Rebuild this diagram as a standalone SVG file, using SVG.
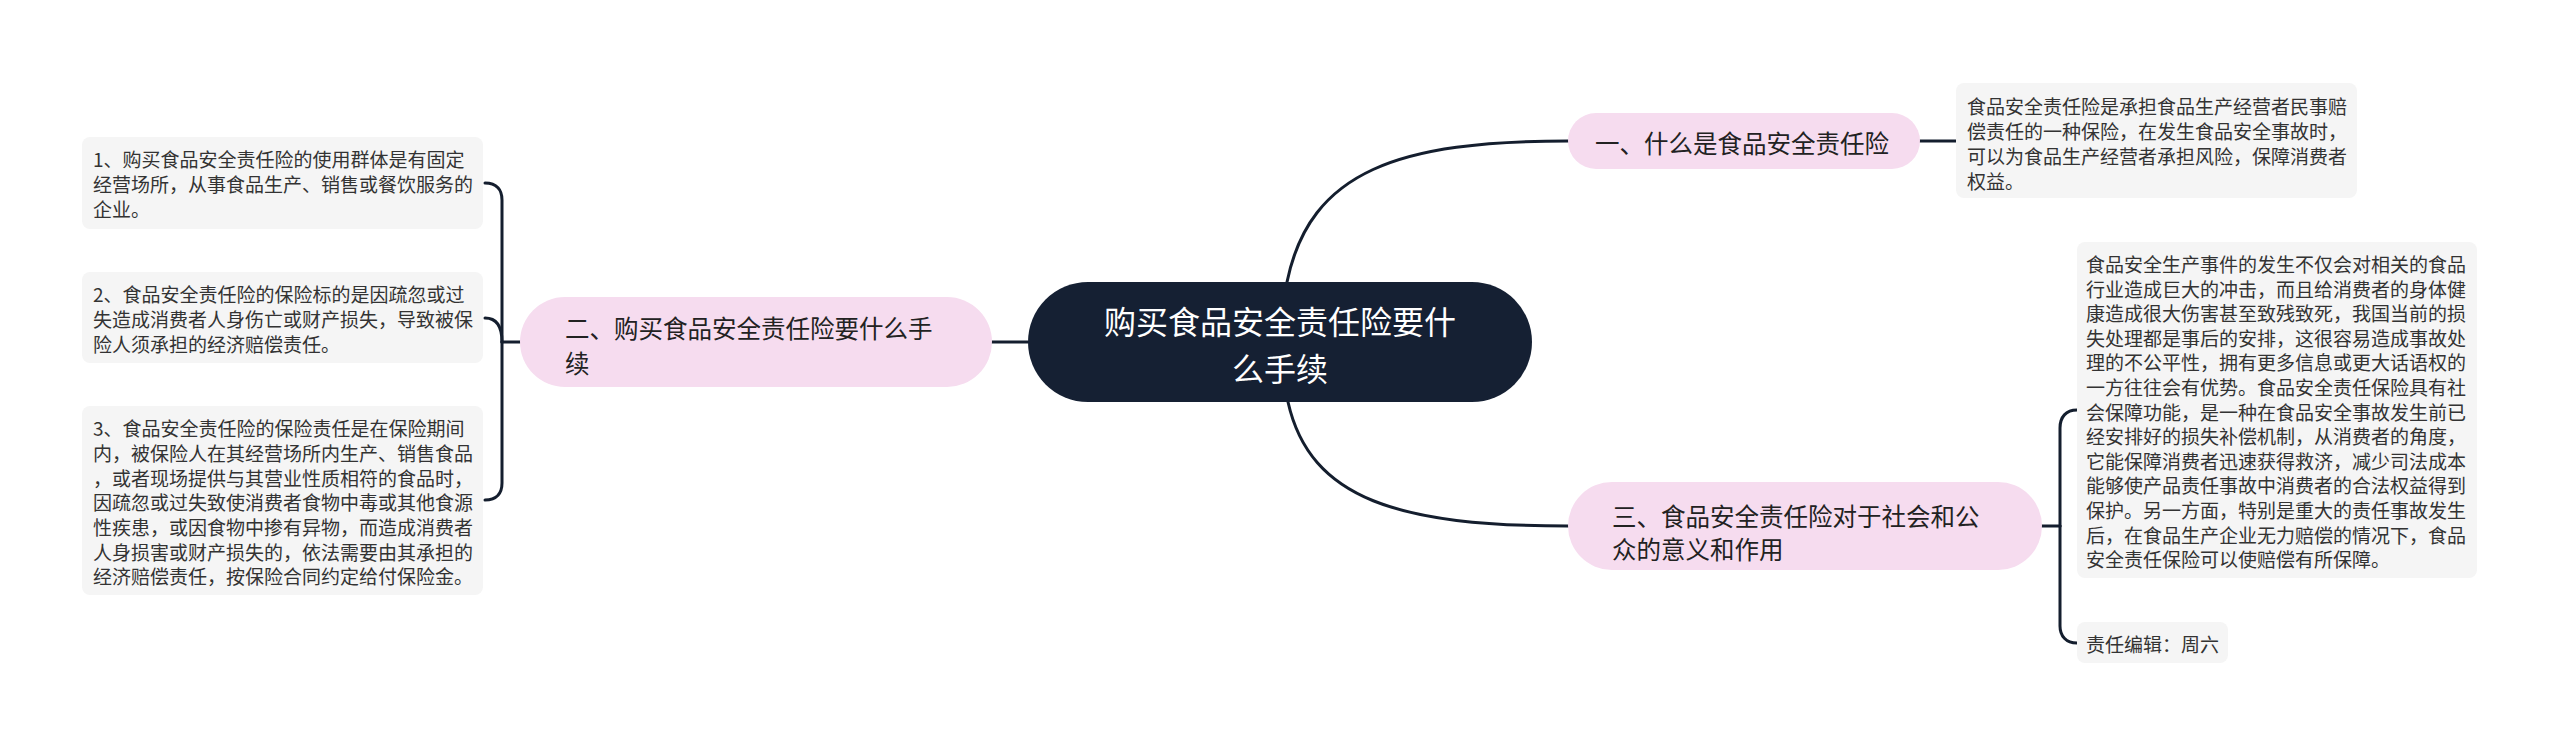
<svg xmlns="http://www.w3.org/2000/svg" width="2560" height="747" viewBox="0 0 2560 747">
<style>
.edge{fill:none;stroke:#141e2e;stroke-width:3;stroke-linecap:round}
.root{fill:#152033}
.sub{fill:#f6dcef}
.leaf{fill:#f5f5f5}
text{font-family:"Noto Sans CJK SC","Noto Sans",sans-serif;dominant-baseline:central}
.rt{fill:#ffffff;font-size:32px}
.st{fill:#222222;font-size:24.5px}
.lt{fill:#333333;font-size:19px}
</style>
<rect width="2560" height="747" fill="#ffffff"/>
<g id="connectors">
<path class="edge" d="M992,342 L1028,342"/>
<path class="edge" d="M502,342 L520,342"/>
<path class="edge" d="M502,342 L502,200 C502,190 497,183 485,183"/>
<path class="edge" d="M502,342 C502,328 498,318 485,318"/>
<path class="edge" d="M502,342 L502,483 C502,493 497,500 485,500"/>
<path class="edge" d="M1287,282 C1310,170 1400,141 1568,141"/>
<path class="edge" d="M1288,402 C1310,500 1400,526 1568,526"/>
<path class="edge" d="M1920,141 L1956,141"/>
<path class="edge" d="M2042,526 L2060,526"/>
<path class="edge" d="M2060,526 L2060,428 C2060,417 2066,410 2077,410"/>
<path class="edge" d="M2060,526 L2060,626 C2060,636 2066,643 2077,643"/>
</g>
<g id="root">
<rect class="root" x="1028" y="282" width="504" height="120" rx="60"/>
<text class="rt" x="1280" y="320" text-anchor="middle">购买食品安全责任险要什</text>
<text class="rt" x="1280" y="367" text-anchor="middle">么手续</text>
</g>
<g id="n1">
<rect class="sub" x="1568" y="113" width="352" height="56" rx="28"/>
<text class="st" x="1595" y="142">一、什么是食品安全责任险</text>
</g>
<g id="n1-leaf">
<rect class="leaf" x="1956" y="83" width="401" height="115" rx="8"/>
<text class="lt" x="1967" y="105">食品安全责任险是承担食品生产经营者民事赔</text>
<text class="lt" x="1967" y="130">偿责任的一种保险，在发生食品安全事故时，</text>
<text class="lt" x="1967" y="155">可以为食品生产经营者承担风险，保障消费者</text>
<text class="lt" x="1967" y="180">权益。</text>
</g>
<g id="n2">
<rect class="sub" x="520" y="297" width="472" height="90" rx="45"/>
<text class="st" x="565" y="327">二、购买食品安全责任险要什么手</text>
<text class="st" x="565" y="362">续</text>
</g>
<g id="n2-leaf1">
<rect class="leaf" x="82" y="137" width="401" height="92" rx="8"/>
<text class="lt" x="93" y="158">1、购买食品安全责任险的使用群体是有固定</text>
<text class="lt" x="93" y="183">经营场所，从事食品生产、销售或餐饮服务的</text>
<text class="lt" x="93" y="208">企业。</text>
</g>
<g id="n2-leaf2">
<rect class="leaf" x="82" y="272" width="401" height="91" rx="8"/>
<text class="lt" x="93" y="293">2、食品安全责任险的保险标的是因疏忽或过</text>
<text class="lt" x="93" y="318">失造成消费者人身伤亡或财产损失，导致被保</text>
<text class="lt" x="93" y="343">险人须承担的经济赔偿责任。</text>
</g>
<g id="n2-leaf3">
<rect class="leaf" x="82" y="406" width="401" height="189" rx="8"/>
<text class="lt" x="93" y="427">3、食品安全责任险的保险责任是在保险期间</text>
<text class="lt" x="93" y="452">内，被保险人在其经营场所内生产、销售食品</text>
<text class="lt" x="93" y="477">，或者现场提供与其营业性质相符的食品时，</text>
<text class="lt" x="93" y="501">因疏忽或过失致使消费者食物中毒或其他食源</text>
<text class="lt" x="93" y="526">性疾患，或因食物中掺有异物，而造成消费者</text>
<text class="lt" x="93" y="551">人身损害或财产损失的，依法需要由其承担的</text>
<text class="lt" x="93" y="575">经济赔偿责任，按保险合同约定给付保险金。</text>
</g>
<g id="n3">
<rect class="sub" x="1568" y="482" width="474" height="88" rx="44"/>
<text class="st" x="1612" y="515">三、食品安全责任险对于社会和公</text>
<text class="st" x="1612" y="548">众的意义和作用</text>
</g>
<g id="n3-leaf1">
<rect class="leaf" x="2077" y="242" width="400" height="336" rx="8"/>
<text class="lt" x="2086" y="263">食品安全生产事件的发生不仅会对相关的食品</text>
<text class="lt" x="2086" y="288">行业造成巨大的冲击，而且给消费者的身体健</text>
<text class="lt" x="2086" y="312">康造成很大伤害甚至致残致死，我国当前的损</text>
<text class="lt" x="2086" y="337">失处理都是事后的安排，这很容易造成事故处</text>
<text class="lt" x="2086" y="361">理的不公平性，拥有更多信息或更大话语权的</text>
<text class="lt" x="2086" y="386">一方往往会有优势。食品安全责任保险具有社</text>
<text class="lt" x="2086" y="411">会保障功能，是一种在食品安全事故发生前已</text>
<text class="lt" x="2086" y="435">经安排好的损失补偿机制，从消费者的角度，</text>
<text class="lt" x="2086" y="460">它能保障消费者迅速获得救济，减少司法成本</text>
<text class="lt" x="2086" y="484">能够使产品责任事故中消费者的合法权益得到</text>
<text class="lt" x="2086" y="509">保护。另一方面，特别是重大的责任事故发生</text>
<text class="lt" x="2086" y="534">后，在食品生产企业无力赔偿的情况下，食品</text>
<text class="lt" x="2086" y="558">安全责任保险可以使赔偿有所保障。</text>
</g>
<g id="n3-leaf2">
<rect class="leaf" x="2077" y="622" width="151" height="41" rx="8"/>
<text class="lt" x="2086" y="643">责任编辑：周六</text>
</g>
</svg>
